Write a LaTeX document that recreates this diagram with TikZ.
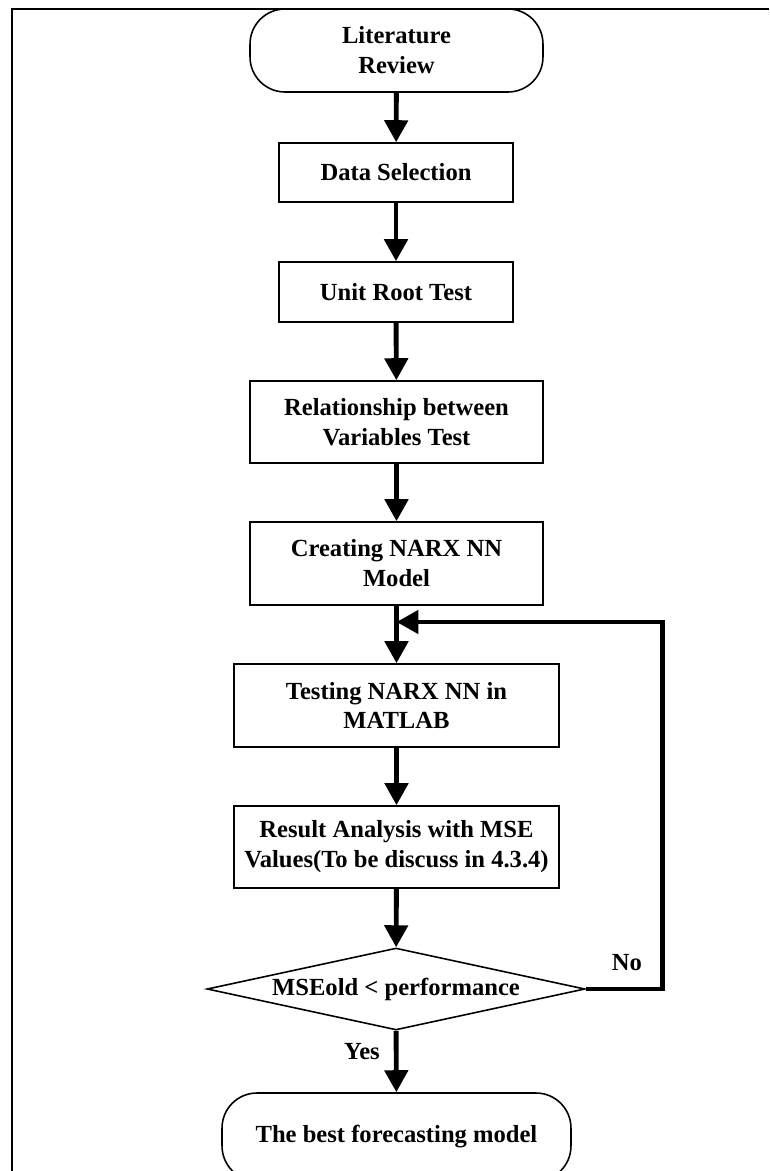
\documentclass[tikz,border=0pt]{standalone}
\usepackage{fontspec}
\setmainfont{Liberation Serif}
\usetikzlibrary{arrows.meta,shapes.geometric}
\begin{document}
\begin{tikzpicture}[x=0.02cm,y=-0.02cm,
    every node/.style={font=\fontsize{14}{17}\selectfont\bfseries,align=center,inner sep=0pt},
    terminal/.style={draw,line width=0.9pt,rounded corners=0.7cm},
    process/.style={draw,line width=0.9pt},
    decision/.style={draw,line width=0.9pt,diamond,aspect=4.6},
    flow/.style={line width=2.8pt,-{Triangle[width=0.46cm,length=0.44cm]}}]
    \useasboundingbox (0,0) rectangle (769,1171);
    \draw [line width=0.9pt] (12,1171)--(12,9)--(769,9);
    \node (lit) at (396.5,50.5) [terminal,minimum width=5.86cm,minimum height=1.66cm] {Literature\\Review};
    \node (data) at (396,172.5) [process,minimum width=4.68cm,minimum height=1.18cm] {Data Selection};
    \node (unitroot) at (396,292) [process,minimum width=4.68cm,minimum height=1.2cm] {Unit Root Test};
    \node (relation) at (396.5,422) [process,minimum width=5.86cm,minimum height=1.64cm] {Relationship between\\Variables Test};
    \node (narx) at (396.5,563.5) [process,minimum width=5.86cm,minimum height=1.66cm] {Creating NARX NN\\Model};
    \node (testing) at (396.5,705.5) [process,minimum width=6.5cm,minimum height=1.66cm] {Testing NARX NN in\\MATLAB};
    \node (result) at (396.5,847) [process,minimum width=6.5cm,minimum height=1.64cm] {Result Analysis with MSE\\Values(To be discuss in 4.3.4)};
    \node (check) at (396,989) [decision,minimum width=7.56cm,minimum height=1.64cm] {MSEold < performance};
    \node (best) at (396.5,1137) [terminal,minimum width=6.98cm,minimum height=1.76cm] {The best forecasting model};
    \node (no) at (627,963) {No};
    \node (yes) at (362,1052) {Yes};
    \coordinate (join) at (396.5,622);
    \draw [flow] (lit)--(data);
    \draw [flow] (data)--(unitroot);
    \draw [flow] (unitroot)--(relation);
    \draw [flow] (relation)--(narx);
    \draw [flow] (narx)--(testing);
    \draw [flow] (testing)--(result);
    \draw [flow] (result)--(check);
    \draw [flow] (check)--(best);
    \draw [flow] (check.east)--++(77,0)|-(join);
\end{tikzpicture}
\end{document}
